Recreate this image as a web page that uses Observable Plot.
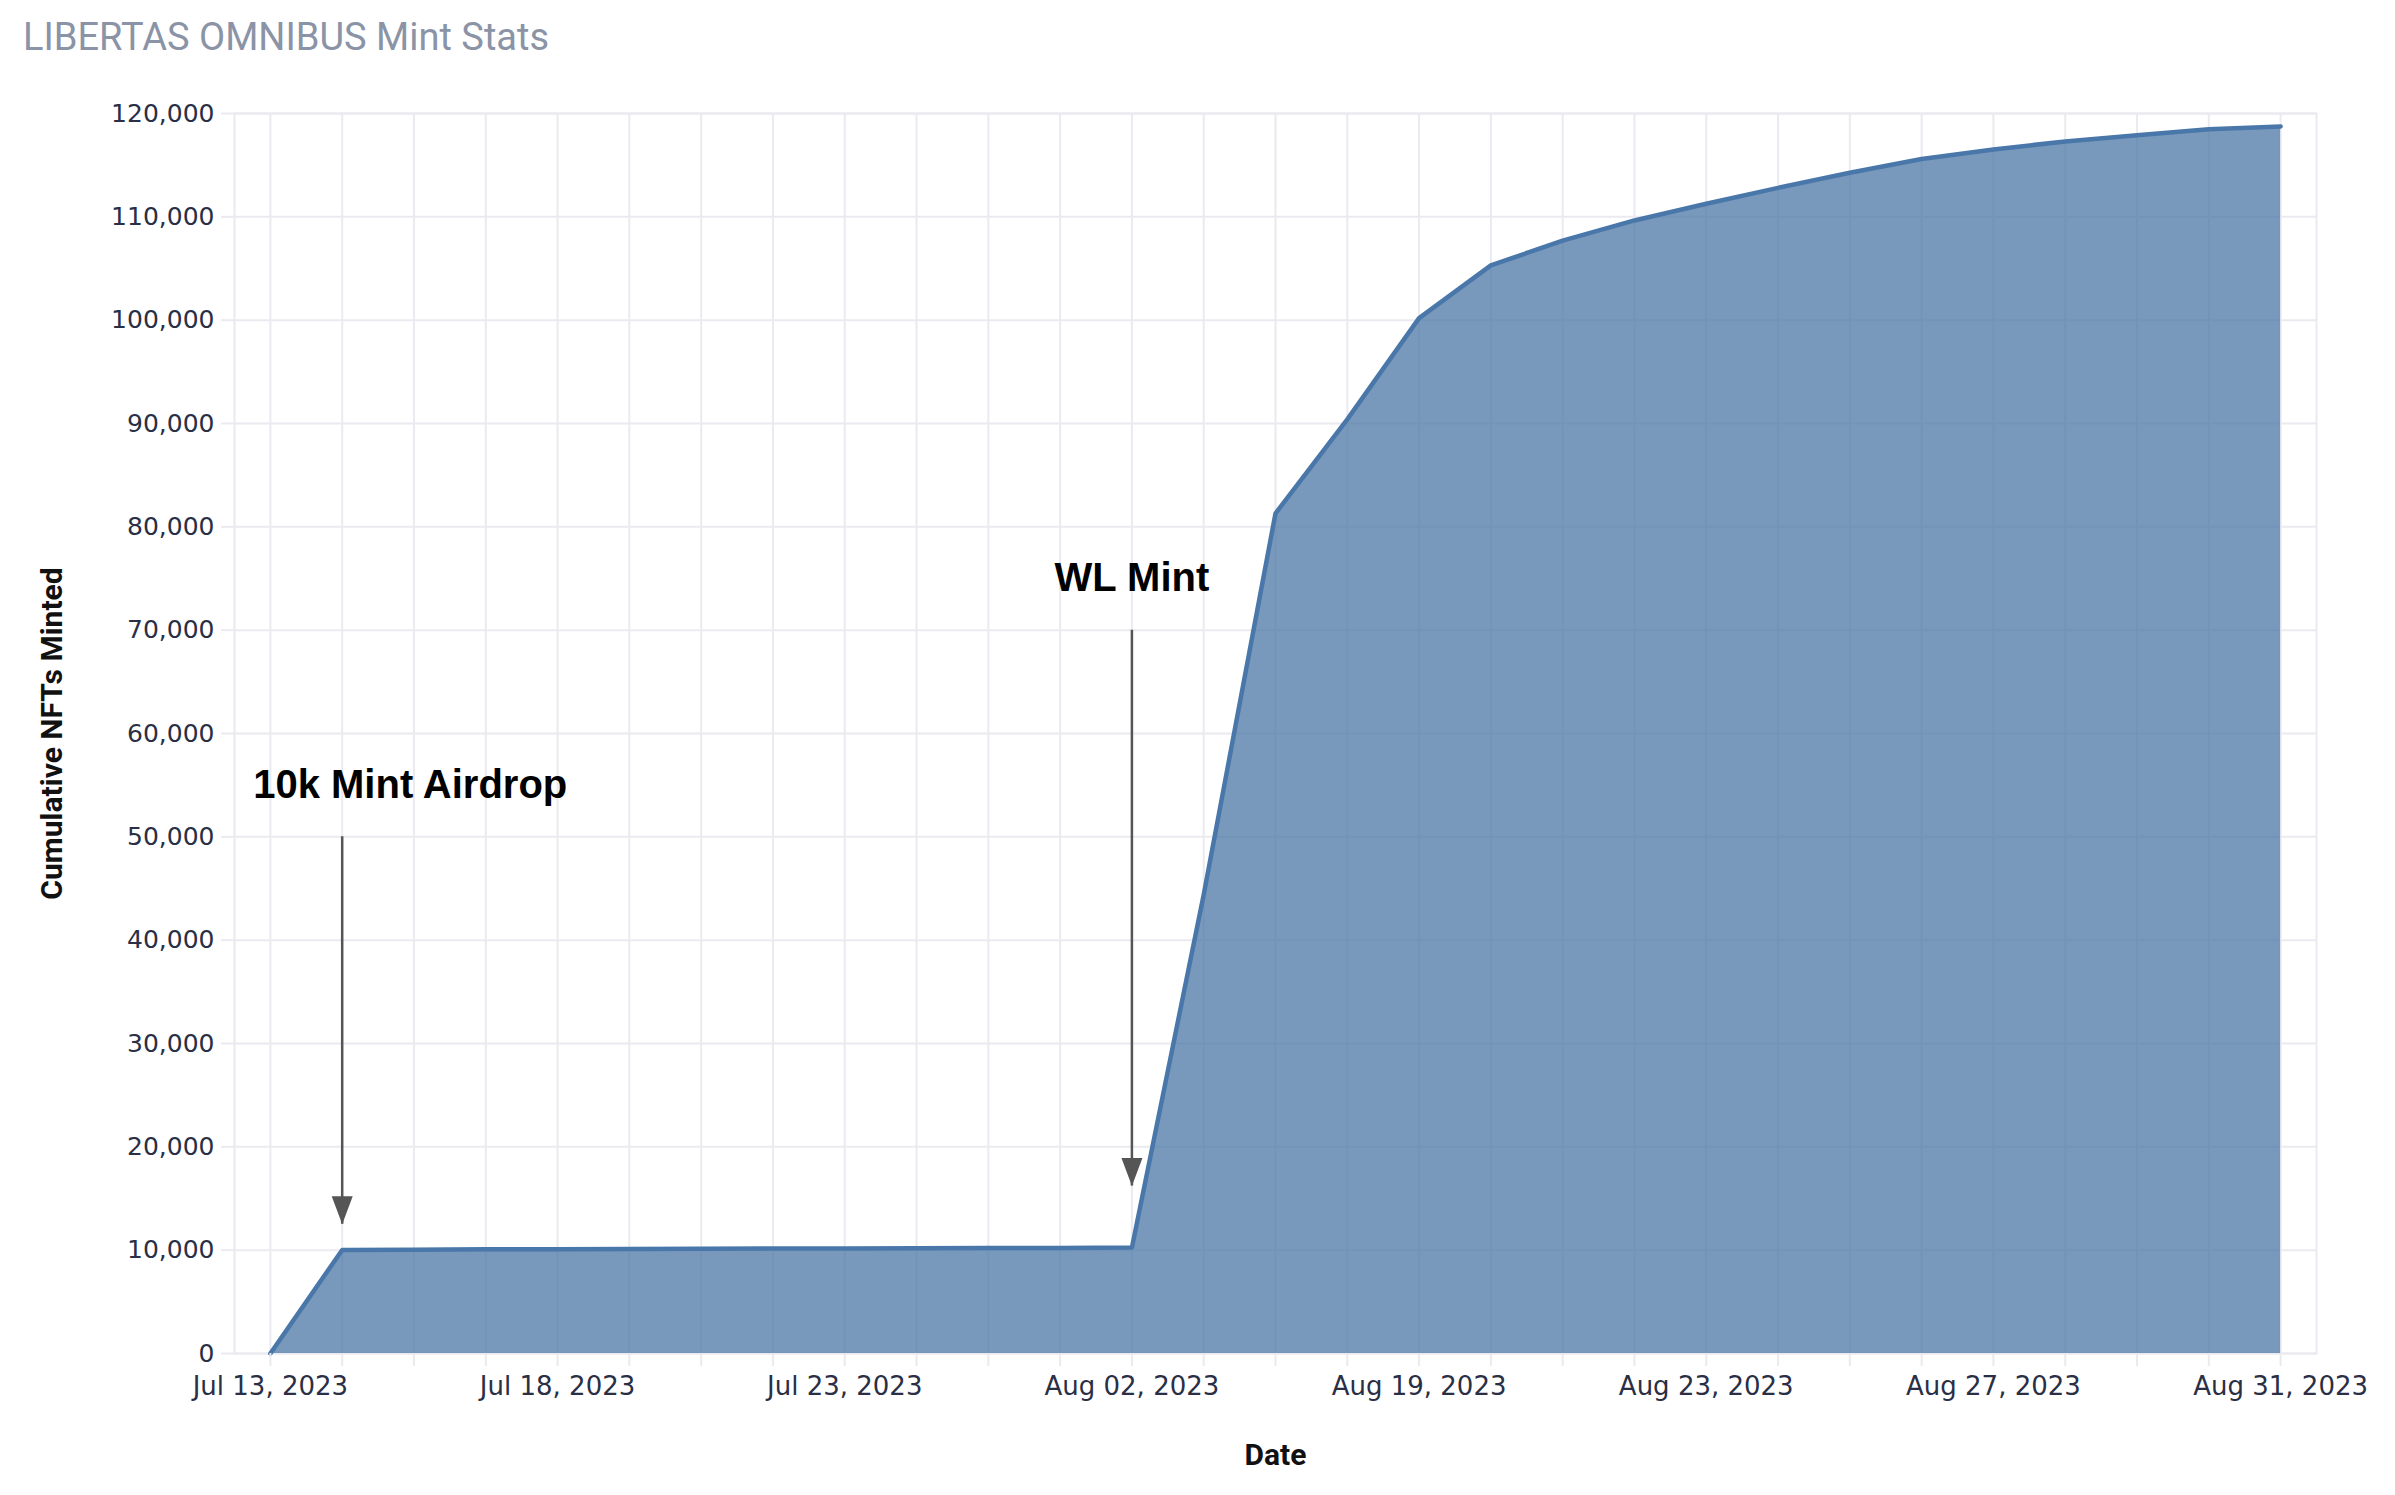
<!DOCTYPE html>
<html>
<head>
<meta charset="utf-8">
<script src="https://cdn.jsdelivr.net/npm/d3@7"></script>
<script src="https://cdn.jsdelivr.net/npm/@observablehq/plot@0.6"></script>
<style>
  html, body { margin: 0; padding: 0; background: #fff; overflow: hidden; width: 2395px; height: 1495px; }
  #title { position: absolute; left: 23px; top: 18px; font-family: Roboto, sans-serif; font-size: 38px; line-height: 38px; color: #8b93a6; white-space: nowrap; }
  #chart { position: absolute; left: 0; top: 70px; }
</style>
</head>
<body>
<div id="title">LIBERTAS OMNIBUS Mint Stats</div>
<div id="chart"></div>
<script>
// ---- data ----
const dates = [
  "2023-07-13", "2023-07-14", "2023-07-15", "2023-07-16",
  "2023-07-18", "2023-07-19", "2023-07-20", "2023-07-21",
  "2023-07-23", "2023-07-25", "2023-07-27", "2023-07-30",
  "2023-08-02", "2023-08-03", "2023-08-04", "2023-08-11",
  "2023-08-19", "2023-08-20", "2023-08-21", "2023-08-22",
  "2023-08-23", "2023-08-24", "2023-08-25", "2023-08-26",
  "2023-08-27", "2023-08-28", "2023-08-29", "2023-08-30",
  "2023-08-31"
];
const cumulativeMinted = [
  0, 10020, 10050, 10080,
  10100, 10120, 10140, 10160,
  10170, 10180, 10200, 10220,
  10250, 44400, 81300, 90400,
  100200, 105300, 107700, 109650,
  111270, 112800, 114270, 115600,
  116520, 117300, 117900, 118480,
  118750
];
const labeledDates = ["2023-07-13", "2023-07-18", "2023-07-23", "2023-08-02", "2023-08-19", "2023-08-23", "2023-08-27", "2023-08-31"];
const yTicks = [0, 10000, 20000, 30000, 40000, 50000, 60000, 70000, 80000, 90000, 100000, 110000, 120000];

const annotationDates = ["2023-07-14", "2023-08-02"];
const annotationLabels = ["10k Mint Airdrop", "WL Mint"];
const annotationTips = [12500, 16200];
const annotationTails = [50000, 70000];

// ---- tables ----
const data = dates.map((date, i) => ({date, value: cumulativeMinted[i]}));
const annotations = annotationDates.map((date, i) => ({
  date, label: annotationLabels[i], tip: annotationTips[i], tail: annotationTails[i]
}));

const gridColor = "#eaeaf0";
const tickTextColor = "#2a2f45";
const fmtDate = d => d3.utcFormat("%b %d, %Y")(new Date(d + "T00:00:00Z"));

const arrowHead = {
  draw(context) {
    context.moveTo(-10.5, -28);
    context.lineTo(10.5, -28);
    context.lineTo(0, 0);
    context.closePath();
  }
};

const chart = Plot.plot({
  width: 2395,
  height: 1425,
  marginLeft: 234,
  marginRight: 79,
  marginTop: 43,
  marginBottom: 142,
  style: {fontFamily: "'DejaVu Sans', sans-serif", fontSize: "25px", background: "#fff"},
  x: {type: "point", domain: dates, padding: 0.5, round: false, label: null},
  y: {domain: [0, 120000], label: null},
  marks: [
    Plot.gridX({stroke: gridColor, strokeOpacity: 1, strokeWidth: 2}),
    Plot.gridY(yTicks, {stroke: gridColor, strokeOpacity: 1, strokeWidth: 2}),
    Plot.frame({stroke: gridColor, strokeWidth: 2}),
    Plot.areaY(data, {x: "date", y: "value", fill: "#4e79a7", fillOpacity: 0.76}),
    Plot.lineY(data, {x: "date", y: "value", stroke: "#4a77a9", strokeWidth: 4.5}),
    Plot.axisY(yTicks, {
      tickSize: 13, tickPadding: 7, tickFormat: d3.format(","),
      stroke: gridColor, strokeWidth: 2, fill: tickTextColor, fontSize: 25, label: null
    }),
    Plot.axisX({tickSize: 13, tickFormat: () => "", stroke: gridColor, strokeWidth: 2, label: null}),
    Plot.axisX(labeledDates, {
      tickSize: 0, tickPadding: 23, tickFormat: fmtDate,
      fill: tickTextColor, fontSize: 26, label: null
    }),
    Plot.text(["Cumulative NFTs Minted"], {
      text: d => d, frameAnchor: "left", textAnchor: "middle", lineAnchor: "middle",
      rotate: -90, dx: -182,
      fontSize: 30, fontWeight: "bold", fontFamily: "Roboto, sans-serif", fill: "#111"
    }),
    Plot.text(["Date"], {
      text: d => d, frameAnchor: "bottom", textAnchor: "middle", lineAnchor: "middle", dy: 102,
      fontSize: 30, fontWeight: "bold", fontFamily: "Roboto, sans-serif", fill: "#111"
    }),
    // annotation arrows
    Plot.ruleX(annotations, {x: "date", y1: "tail", y2: "tip", stroke: "#555", strokeWidth: 2.5}),
    Plot.dot(annotations, {x: "date", y: "tip", symbol: arrowHead, r: 10, fill: "#555", stroke: "none"}),
    Plot.text([annotations[0]], {
      x: "date", y: "tail", text: "label", dy: -52, dx: -89, textAnchor: "start",
      fontSize: 40, fontWeight: "bold", fontFamily: "'Liberation Sans', Arial, sans-serif", fill: "#000"
    }),
    Plot.text([annotations[1]], {
      x: "date", y: "tail", text: "label", dy: -52, textAnchor: "middle",
      fontSize: 40, fontWeight: "bold", fontFamily: "'Liberation Sans', Arial, sans-serif", fill: "#000"
    })
  ]
});
document.getElementById("chart").appendChild(chart);
</script>
</body>
</html>
